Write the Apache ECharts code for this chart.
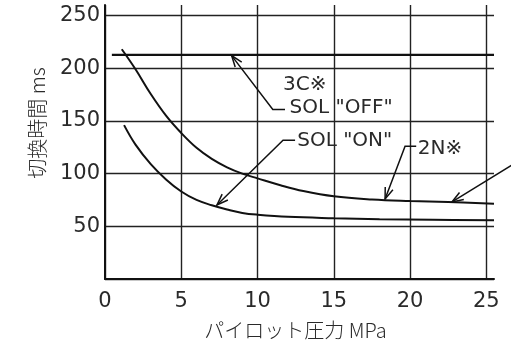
<!DOCTYPE html>
<html><head><meta charset="utf-8">
<script src="https://cdn.jsdelivr.net/npm/echarts@6/dist/echarts.min.js"></script>
<style>html,body{margin:0;padding:0;background:#fff}#c{width:511px;height:342px}</style>
</head><body><div id="c"></div>
<script>
// ---- data ----
const xTicks = [0, 5, 10, 15, 20, 25];
const yTicks = [0, 50, 100, 150, 200, 250];
const xName = 'パイロット圧力 MPa';
const yName = '切換時間 ms';
// 3C SOL "OFF" (flat line)
const off3C = [[0.45, 212.7], [25.5, 212.7]];
// 2N SOL "OFF"
const off2N = [[1.1, 218], [2, 199], [3, 175.5], [4, 155], [5, 138.5], [6, 124.5], [7, 114], [8, 106],
  [9, 100], [10, 95.5], [11.5, 89], [13, 83.5], [15, 78.5], [17.5, 75.5], [20, 74], [22.5, 73], [25.5, 71.5]];
// SOL "ON"
const solOn = [[1.25, 146], [2, 127.5], [3, 109], [4, 94.5], [5, 83], [6, 75], [7, 70], [8, 66],
  [9, 62.7], [10, 61], [12, 59], [15, 57.7], [18, 56.8], [21.5, 56.2], [25.5, 55.8]];
// annotation leaders (data units): points of polyline, last point is arrow tip
const leaders = [
  [[11.8, 160.8], [11.0, 160.8], [8.3, 212]],
  [[12.46, 131.6], [11.67, 131.6], [7.34, 70.3]],
  [[20.4, 126], [19.67, 126], [18.36, 76]],
  [[27.2, 112.7], [22.75, 73.1]]
];
const labels = [
  ['3C※', 11.67, 184.4],
  ['SOL "OFF"', 12.1, 162.5],
  ['SOL "ON"', 12.6, 131.6],
  ['2N※', 20.5, 124]
];

const NUMFONT = 'DejaVu Sans, Noto Sans CJK JP, sans-serif';
const JPFONT = 'Noto Sans CJK JP, sans-serif';
const TXT = '#2a2a2a';
const chart = echarts.init(document.getElementById('c'), null, {renderer: 'canvas'});

const lineSeries = (data, w) => ({
  type: 'line', data: data, smooth: 0.4, symbol: 'none', silent: true,
  lineStyle: {color: '#111', width: w}, z: 5
});

chart.setOption({
  animation: false,
  backgroundColor: '#fff',
  grid: {left: 105, right: 17, top: 5, bottom: 63, containLabel: false, outerBoundsMode: 'none'},
  xAxis: {
    type: 'value', min: 0, max: 25.5, interval: 5,
    axisLine: {show: true, onZero: false, lineStyle: {color: '#111', width: 2}},
    axisTick: {show: false, customValues: xTicks},
    axisLabel: {customValues: xTicks, color: TXT, fontSize: 21, fontFamily: NUMFONT, margin: 12},
    splitLine: {show: true, lineStyle: {color: '#222', width: 1.4}},
    name: xName, nameLocation: 'middle', nameGap: 41,
    nameTextStyle: {color: TXT, fontSize: 20, fontWeight: 300, fontFamily: JPFONT, padding: [0, 8, 0, 0]}
  },
  yAxis: {
    type: 'value', min: 0, max: 260, interval: 50,
    axisLine: {show: true, lineStyle: {color: '#111', width: 2}},
    axisTick: {show: false, customValues: yTicks},
    axisLabel: {customValues: yTicks, color: TXT, fontSize: 21, fontFamily: NUMFONT, margin: 5,
      formatter: v => v === 0 ? '' : String(v)},
    splitLine: {show: true, lineStyle: {color: '#222', width: 1.4}}
  },
  series: [lineSeries(off3C, 2.4), lineSeries(off2N, 2), lineSeries(solOn, 2)]
});

function px(p) { return chart.convertToPixel({gridIndex: 0}, p); }
const graphics = [];
leaders.forEach(pts => {
  const P = pts.map(px);
  graphics.push({type: 'polyline', shape: {points: P}, style: {stroke: '#111', lineWidth: 1.5, fill: null}, z: 10});
  const tip = P[P.length - 1], prev = P[P.length - 2];
  let dx = tip[0] - prev[0], dy = tip[1] - prev[1];
  const L = Math.hypot(dx, dy); dx /= L; dy /= L;
  const len = 12, th = 20 * Math.PI / 180;
  const wing = s => {
    const c = Math.cos(s * th), sn = Math.sin(s * th);
    const rx = dx * c - dy * sn, ry = dx * sn + dy * c;
    return [tip[0] - rx * len, tip[1] - ry * len];
  };
  graphics.push({type: 'polyline', shape: {points: [wing(1), tip, wing(-1)]},
    style: {stroke: '#111', lineWidth: 1.5, fill: null}, z: 10});
});
labels.forEach(([t, x, y]) => {
  const p = px([x, y]);
  graphics.push({type: 'text', x: p[0], y: p[1], z: 11,
    style: {text: t, fill: TXT, font: '20px ' + NUMFONT, textAlign: 'left', textVerticalAlign: 'middle'}});
});
graphics.push({type: 'text', x: 37, y: 123, rotation: Math.PI / 2, z: 11,
  style: {text: yName, fill: TXT, font: '300 20px ' + JPFONT, textAlign: 'center', textVerticalAlign: 'middle'}});
chart.setOption({graphic: graphics});
</script></body></html>
